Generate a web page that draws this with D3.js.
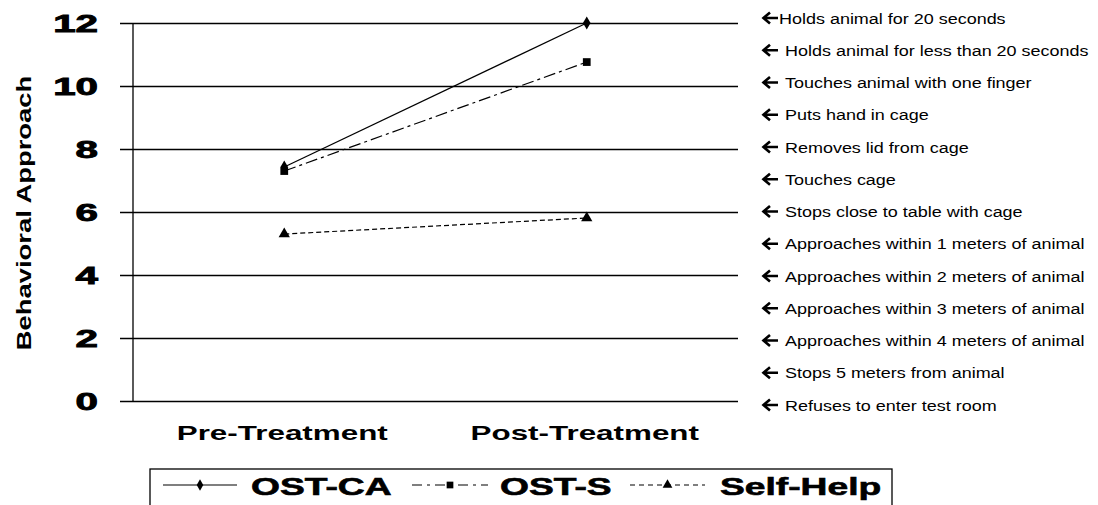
<!DOCTYPE html>
<html>
<head>
<meta charset="utf-8">
<script src="https://cdn.jsdelivr.net/npm/d3@7"></script>
<style>
  body { margin: 0; background: #fff; }
  svg { display: block; font-family: "Liberation Sans", Arial, sans-serif; }
</style>
</head>
<body>
<svg id="chart" width="1098" height="505"></svg>
<script>
const phases = ["Pre-Treatment", "Post-Treatment"];
const ostCA = [7.43, 12.0];
const ostS = [7.3, 10.76];
const selfHelp = [5.3, 5.81];
const yTicks = [0, 2, 4, 6, 8, 10, 12];
const stepLabels = [
  "Holds animal for 20 seconds",
  "Holds animal for less than 20 seconds",
  "Touches animal with one finger",
  "Puts hand in cage",
  "Removes lid from cage",
  "Touches cage",
  "Stops close to table with cage",
  "Approaches within 1 meters of animal",
  "Approaches within 2 meters of animal",
  "Approaches within 3 meters of animal",
  "Approaches within 4 meters of animal",
  "Stops 5 meters from animal",
  "Refuses to enter test room"
];

const series = [
  { name: "OST-CA", values: ostCA, dash: null, legDash: null, symbol: d3.symbolDiamond, size: 50 },
  { name: "OST-S", values: ostS, dash: "12,4,3,4", legDash: "10,5,3,5", symbol: d3.symbolSquare, size: 60 },
  { name: "Self-Help", values: selfHelp, dash: "5,3", legDash: "5,4", symbol: d3.symbolTriangle, size: 55 }
];

const svg = d3.select("#chart");
const plotL = 133, plotR = 738, plotT = 23, plotB = 401, gridL = 120;

const x = d3.scalePoint().domain(phases).range([plotL, plotR]).padding(0.5);
const y = d3.scaleLinear().domain([0, 12]).range([plotB, plotT]);

// the original fonts run much wider than Arial, so stretch horizontally
function wideText(g, txt, tx, ty, sx, anchor, size) {
  return g.append("g")
    .attr("transform", `translate(${tx},${ty}) scale(${sx},1)`)
    .append("text")
    .attr("text-anchor", anchor)
    .attr("font-size", size)
    .attr("font-weight", "bold")
    .attr("fill", "#000")
    .text(txt);
}

// grid lines (they also act as the left ticks)
svg.append("g")
  .attr("transform", `translate(${plotR},0)`)
  .call(d3.axisLeft(y).tickValues(yTicks).tickSize(plotR - gridL).tickFormat(""))
  .call(g => g.select(".domain").remove())
  .call(g => g.selectAll(".tick line").attr("stroke", "#000").attr("stroke-width", 1.3));

svg.append("line")
  .attr("x1", plotL).attr("x2", plotL)
  .attr("y1", y(12)).attr("y2", y(0))
  .attr("stroke", "#000").attr("stroke-width", 1.3);

// y tick labels
const tickG = svg.append("g");
yTicks.forEach(t => {
  wideText(tickG, String(t), 98, y(t) + 9, 1.68, "end", 24)
    .attr("stroke", "#000").attr("stroke-width", 0.9);
});

// y title
svg.append("g")
  .attr("transform", `translate(31,213) rotate(-90) scale(1.37,1)`)
  .append("text")
  .attr("text-anchor", "middle")
  .attr("font-size", 20)
  .attr("font-weight", "bold")
  .text("Behavioral Approach");

// category labels
const catG = svg.append("g");
phases.forEach(p => {
  wideText(catG, p, x(p) - 2, 440, 1.57, "middle", 20);
});

// series lines + markers
const line = d3.line().x((d, i) => x(phases[i])).y(d => y(d));
series.forEach(s => {
  svg.append("path")
    .datum(s.values)
    .attr("d", line)
    .attr("fill", "none")
    .attr("stroke", "#000")
    .attr("stroke-width", 1.2)
    .attr("stroke-dasharray", s.dash);
  svg.selectAll(null)
    .data(s.values)
    .join("path")
    .attr("transform", (d, i) => `translate(${x(phases[i])},${y(d)})`)
    .attr("d", d3.symbol(s.symbol, s.size))
    .attr("fill", "#000");
});

// step labels on the right
const stepY = d3.scaleLinear().domain([0, stepLabels.length - 1]).range([18, 405]);
const stepG = svg.append("g").attr("fill", "#000");
stepLabels.forEach((lab, i) => {
  const cy = stepY(i);
  // arrow
  stepG.append("path")
    .attr("d", `M${778},${cy} H${764} M${770},${cy - 5.5} L${763.5},${cy} L${770},${cy + 5.5}`)
    .attr("fill", "none")
    .attr("stroke", "#000")
    .attr("stroke-width", 2.6);
  stepG.append("g")
    .attr("transform", `translate(${i === 0 ? 779 : 785},${cy + 5.5}) scale(1.16,1)`)
    .append("text")
    .attr("font-size", 15.5)
    .text(lab);
});

// legend
const leg = svg.append("g");
leg.append("rect")
  .attr("x", 150).attr("y", 469).attr("width", 742).attr("height", 60)
  .attr("fill", "none").attr("stroke", "#000").attr("stroke-width", 1.3);
const legItems = [
  { x0: 163, x1: 237, tx: 251 },
  { x0: 412, x1: 488, tx: 500 },
  { x0: 630, x1: 705, tx: 720 }
];
series.forEach((s, i) => {
  const it = legItems[i];
  const ly = 485;
  leg.append("line")
    .attr("x1", it.x0).attr("x2", it.x1).attr("y1", ly).attr("y2", ly)
    .attr("stroke", "#000").attr("stroke-width", 1.2)
    .attr("stroke-dasharray", s.legDash);
  leg.append("path")
    .attr("transform", `translate(${(it.x0 + it.x1) / 2},${ly})`)
    .attr("d", d3.symbol(s.symbol, s.size * 0.75))
    .attr("fill", "#000");
  wideText(leg, s.name, it.tx, 495, 1.55, "start", 24)
    .attr("stroke", "#000").attr("stroke-width", 0.6);
});
</script>
</body>
</html>
